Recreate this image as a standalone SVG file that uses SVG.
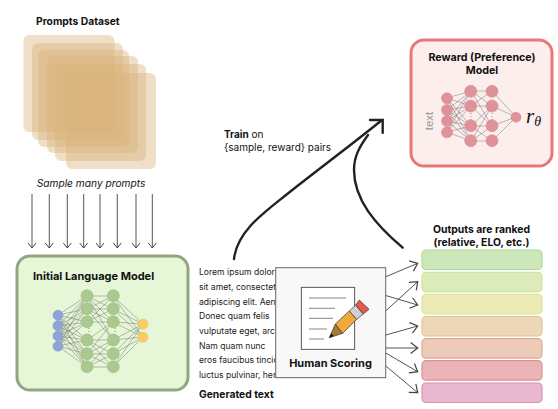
<svg xmlns="http://www.w3.org/2000/svg" width="558" height="409" viewBox="0 0 558 409">
<defs>
<marker id="a" markerWidth="10" markerHeight="10" refX="8" refY="5" orient="auto" markerUnits="userSpaceOnUse"><path d="M3 1L8 5L3 9" fill="none" stroke="#444" stroke-width="1"/></marker>
<marker id="b" markerWidth="12" markerHeight="12" refX="10" refY="6" orient="auto" markerUnits="userSpaceOnUse"><path d="M3 .5L10 6L3 11.500" fill="none" stroke="#444" stroke-width="1.200"/></marker>
</defs>
<style>
text{font-family:Inter,"Liberation Sans",sans-serif;fill:#111}
.b{font-weight:700}
.s{fill:#d8b27a;fill-opacity:.42}
.lorem{font-size:8.600px;fill:#222}
.edge{fill:none;stroke:#555;stroke-width:.4}
.down{stroke:#555;stroke-width:1;fill:none;marker-end:url(#a)}
.rank{stroke:#555;stroke-width:1;fill:none;marker-end:url(#b)}
.big{fill:none;stroke:#222;stroke-width:2.400;stroke-linecap:round}
.g{fill:#a9c98e;stroke:#98bb7c;stroke-width:.6}
.i{fill:#8ea4d6;stroke:#7f96cc;stroke-width:.6}
.o{fill:#f8cd68;stroke:#eebc50;stroke-width:.6}
.r{fill:#e0929a;stroke:#d88890;stroke-width:.6}
.bar{stroke-width:1.200}
.w{stroke:#666;stroke-width:.8;fill:none}
</style>
<g id="prompts-dataset">
<text class="b" x="36" y="25" font-size="10.300">Prompts Dataset</text>
<rect class="s" x="23.500" y="35" width="91" height="97" rx="6"/>
<rect class="s" x="32" y="43" width="91" height="97" rx="6"/>
<rect class="s" x="38" y="50" width="91" height="97" rx="6"/>
<rect class="s" x="47" y="56" width="91" height="97" rx="6"/>
<rect class="s" x="55" y="64" width="91" height="97" rx="6"/>
<rect class="s" x="66" y="73" width="90" height="96" rx="6"/>
<text x="91" y="187" font-size="10.200" font-style="italic" text-anchor="middle" fill="#222">Sample many prompts</text>
</g>
<g id="connectors">
<path class="down" d="M32 194V248"/>
<path class="down" d="M49.300 194V248"/>
<path class="down" d="M67.300 194V248"/>
<path class="down" d="M83.700 194V248"/>
<path class="down" d="M100 194V248"/>
<path class="down" d="M117.300 194V248"/>
<path class="down" d="M136 194V248"/>
<path class="down" d="M152.300 194V248"/>
<path class="big" d="M234 259C237 232 262 214 286 195C316 171 350 146 382 120"/>
<path class="big" d="M402.700 247.700C376 225 354 200 354 170C354 156 360 146 368 135"/>
<path class="big" d="M370 120H382.700V132.700"/>
<path class="rank" d="M384 277.500L417.700 263.300"/>
<path class="rank" d="M384 295L417.700 305"/>
<path class="rank" d="M384 312.500L417.700 281.700"/>
<path class="rank" d="M384 335.500L417.700 326"/>
<path class="rank" d="M384 348H417.700"/>
<path class="rank" d="M384 352L417.700 371.700"/>
<path class="rank" d="M384 364.500L417.700 392.700"/>
</g>
<g id="initial-language-model">
<rect x="17" y="256" width="171" height="134" rx="13" fill="#e6f7d8" stroke="#8fa67f" stroke-width="3"/>
<text class="b" x="33" y="280" font-size="11">Initial Language Model</text>
<path class="edge" d="M58 315L87 296M58 315L87 309M58 315L87 322M58 315L87 340M58 315L87 354M58 315L87 367M58 326L87 296M58 326L87 309M58 326L87 322M58 326L87 340M58 326L87 354M58 326L87 367M58 336L87 296M58 336L87 309M58 336L87 322M58 336L87 340M58 336L87 354M58 336L87 367M58 346L87 296M58 346L87 309M58 346L87 322M58 346L87 340M58 346L87 354M58 346L87 367M87 296L113 296M87 296L113 309M87 296L113 322M87 296L113 340M87 309L113 296M87 309L113 309M87 309L113 322M87 309L113 340M87 322L113 296M87 322L113 309M87 322L113 322M87 340L113 340M87 340L113 354M87 340L113 367M87 340L113 322M87 354L113 340M87 354L113 354M87 354L113 367M87 354L113 322M87 367L113 340M87 367L113 354M87 367L113 367M113 296L143 324M113 296L143 337M113 309L143 324M113 309L143 337M113 322L143 324M113 322L143 337M113 340L143 324M113 340L143 337M113 354L143 324M113 354L143 337M113 367L143 324M113 367L143 337"/>
<path d="M89 328V335M115 328V335" stroke="#7c9c62" stroke-width="1" stroke-dasharray="1 2"/>
<circle class="i" cx="58" cy="315.300" r="5"/><circle class="i" cx="58" cy="325.700" r="5"/><circle class="i" cx="58" cy="336" r="5"/><circle class="i" cx="58" cy="346.300" r="5"/>
<circle class="g" cx="87" cy="295.700" r="6"/><circle class="g" cx="87" cy="308.700" r="6"/><circle class="g" cx="87" cy="321.700" r="6"/><circle class="g" cx="87" cy="340" r="6"/><circle class="g" cx="87" cy="353.700" r="6"/><circle class="g" cx="87" cy="366.700" r="6"/>
<circle class="g" cx="113.300" cy="295.700" r="6"/><circle class="g" cx="113.300" cy="308.700" r="6"/><circle class="g" cx="113.300" cy="321.700" r="6"/><circle class="g" cx="113.300" cy="340" r="6"/><circle class="g" cx="113.300" cy="353.700" r="6"/><circle class="g" cx="113.300" cy="366.700" r="6"/>
<circle class="o" cx="143" cy="324.300" r="5"/><circle class="o" cx="143" cy="337.300" r="5"/>
</g>
<g id="reward-model">
<rect x="411" y="40" width="141" height="126" rx="13" fill="#fdeeee" stroke="#e87878" stroke-width="3"/>
<text class="b" x="482" y="61" font-size="10.700" text-anchor="middle">Reward (Preference)</text>
<text class="b" x="482" y="73.500" font-size="10.700" text-anchor="middle">Model</text>
<path class="edge" d="M447 98L471 91M447 98L471 106M447 98L471 126M447 98L471 141M447 110L471 91M447 110L471 106M447 110L471 126M447 110L471 141M447 121L471 91M447 121L471 106M447 121L471 126M447 121L471 141M447 132L471 91M447 132L471 106M447 132L471 126M447 132L471 141M471 91L492 91M471 91L492 106M471 91L492 126M471 106L492 91M471 106L492 106M471 106L492 126M471 126L492 106M471 126L492 126M471 126L492 141M471 141L492 106M471 141L492 126M471 141L492 141M492 91L516 117M492 106L516 117M492 126L516 117M492 141L516 117"/>
<path d="M471 113V120M492 113V120" stroke="#c98088" stroke-width="1" stroke-dasharray="1 2"/>
<circle class="r" cx="447" cy="98.300" r="5.500"/><circle class="r" cx="447" cy="110" r="5.500"/><circle class="r" cx="447" cy="121" r="5.500"/><circle class="r" cx="447" cy="132.300" r="5.500"/>
<circle class="r" cx="470.700" cy="91.300" r="6"/><circle class="r" cx="470.700" cy="106" r="6"/><circle class="r" cx="470.700" cy="125.700" r="6"/><circle class="r" cx="470.700" cy="140.700" r="6"/>
<circle class="r" cx="492" cy="91.300" r="6"/><circle class="r" cx="492" cy="106" r="6"/><circle class="r" cx="492" cy="125.700" r="6"/><circle class="r" cx="492" cy="140.700" r="6"/>
<circle class="r" cx="516" cy="117.300" r="5"/>
<text x="429" y="125" font-size="11.500" text-anchor="middle" transform="rotate(-90 429 121)" style="fill:#999;font-family:'Liberation Sans',sans-serif">text</text>
<text x="526" y="123" font-size="21" font-style="italic" style="font-family:'Liberation Serif',serif">r<tspan font-size="14" dy="3">θ</tspan></text>
</g>
<g id="train-label">
<text x="224" y="137.700" font-size="10" fill="#222"><tspan class="b">Train</tspan> on</text>
<text x="224" y="150.700" font-size="10" fill="#222">{sample, reward} pairs</text>
</g>
<g id="generated-text">
<text class="lorem" x="199" y="275.300">Lorem ipsum dolor</text>
<text class="lorem" x="199" y="290">sit amet, consectet</text>
<text class="lorem" x="199" y="304.700">adipiscing elit. Aen</text>
<text class="lorem" x="199" y="319.300">Donec quam felis</text>
<text class="lorem" x="199" y="334">vulputate eget, arc</text>
<text class="lorem" x="199" y="348.700">Nam quam nunc</text>
<text class="lorem" x="199" y="363.300">eros faucibus tincic</text>
<text class="lorem" x="199" y="378">luctus pulvinar, her</text>
<text class="b" x="199" y="398" font-size="10.300">Generated text</text>
</g>
<g id="human-scoring">
<rect x="275.700" y="267.700" width="110" height="110" fill="#f8f8f8" stroke="#666" stroke-width="1"/>
<rect x="301.300" y="287.300" width="53.400" height="62" fill="#fff" stroke="#333" stroke-width=".8"/>
<path class="w" d="M309 298H346M309 308.300H335M309 318.300H333M309 329H327M309 339H324"/>
<polygon points="329.300,337.700 335.300,324 342.700,333.300" fill="#a8792f" stroke="#333" stroke-width=".7"/>
<polygon points="329.300,337.700 331.300,333.300 333.700,336" fill="#111"/>
<polygon points="335.300,324 349.300,311 356.700,319.300 342.700,333.300" fill="#f0a838" stroke="#333" stroke-width=".7"/>
<polygon points="349.300,311 355.700,305 363.300,314 356.700,319.300" fill="#d0d0d0" stroke="#333" stroke-width=".7"/>
<polygon points="355.700,305 359.300,300 369,309.300 363.300,314" fill="#e8584f" stroke="#333" stroke-width=".7"/>
<text class="b" x="330.500" y="366.700" font-size="11" text-anchor="middle">Human Scoring</text>
</g>
<g id="ranked-outputs">
<text class="b" x="481.500" y="232.700" font-size="10.400" text-anchor="middle">Outputs are ranked</text>
<text class="b" x="481.500" y="245.500" font-size="10.400" text-anchor="middle">(relative, ELO, etc.)</text>
<rect class="bar" x="422" y="250" width="120" height="19.500" rx="4" fill="#cce8bb" stroke="#addc94"/>
<rect class="bar" x="422" y="272.300" width="120" height="19.500" rx="4" fill="#dcebb9" stroke="#cfe5a0"/>
<rect class="bar" x="422" y="294.300" width="120" height="19.500" rx="4" fill="#ecebb5" stroke="#e2e29c"/>
<rect class="bar" x="422" y="316.500" width="120" height="19.500" rx="4" fill="#ecd8b8" stroke="#e2c48e"/>
<rect class="bar" x="422" y="338.700" width="120" height="19.500" rx="4" fill="#eccbb8" stroke="#e2a890"/>
<rect class="bar" x="422" y="360.700" width="120" height="19.500" rx="4" fill="#ebb5b8" stroke="#de8e96"/>
<rect class="bar" x="422" y="383" width="120" height="19.500" rx="4" fill="#e8b8d0" stroke="#de90ac"/>
</g>
</svg>
